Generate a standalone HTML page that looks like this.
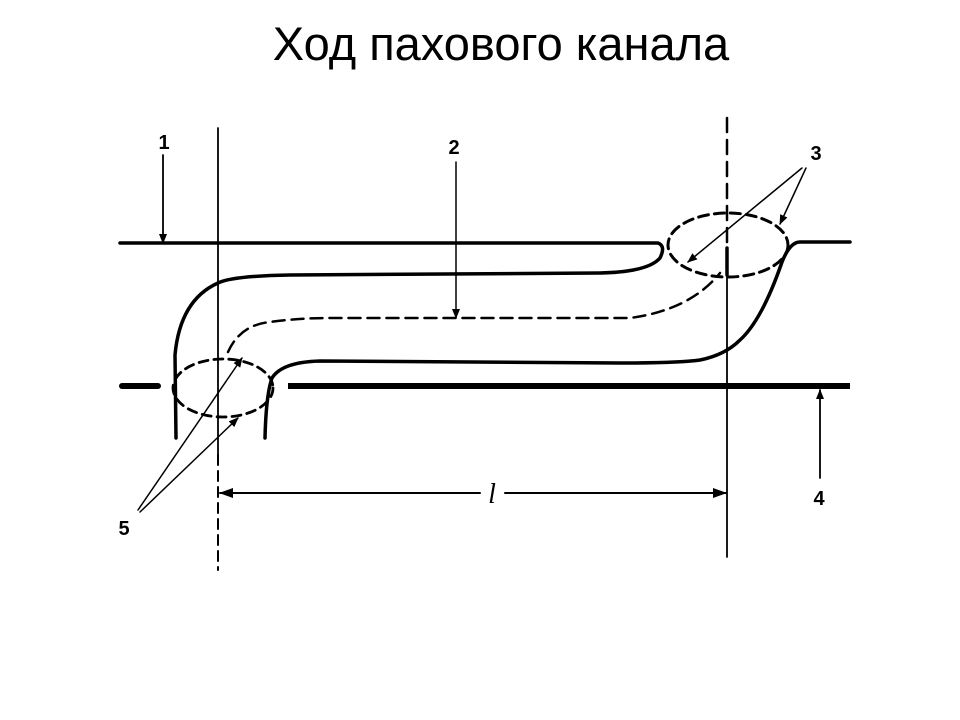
<!DOCTYPE html>
<html><head><meta charset="utf-8"><style>
body{margin:0;background:#fff;}
svg{display:block}
</style></head><body>
<svg width="960" height="720" viewBox="0 0 960 720" xmlns="http://www.w3.org/2000/svg">
<defs>
<marker id="a" markerWidth="10" markerHeight="8" refX="9" refY="4" orient="auto" markerUnits="userSpaceOnUse"><path d="M0,0 L10,4 L0,8 Z" fill="#000"/></marker>
<marker id="b" markerWidth="14" markerHeight="10" refX="13" refY="5" orient="auto" markerUnits="userSpaceOnUse"><path d="M0,0 L14,5 L0,10 Z" fill="#000"/></marker>
</defs>
<text x="501" y="60" font-family="Liberation Sans, sans-serif" font-size="47" text-anchor="middle">Ход пахового канала</text>
<g fill="none" stroke="#000" stroke-linecap="round">
<line x1="218" y1="128" x2="218" y2="455" stroke-width="1.8"/>
<line x1="218" y1="455" x2="218" y2="570" stroke-width="2" stroke-dasharray="10,6"/>
<line x1="727" y1="118" x2="727" y2="245" stroke-width="2.5" stroke-dasharray="14,8"/>
<line x1="727" y1="270" x2="727" y2="557" stroke-width="1.8"/>
<line x1="727" y1="248" x2="727" y2="275" stroke-width="3.5"/>
<path d="M120 243 H658 Q666 246 660 258 Q648 272 600 273 L290 275 Q232 276 218 283 Q180 300 175 355 L176 438" stroke-width="3.5"/>
<path d="M850 242 H800 Q790 242 782 262 Q762 320 740 340 Q725 355 700 360 Q680 363 620 363 L320 361 Q282 362 272 378 Q266 395 265 438" stroke-width="3.5"/>
<line x1="288" y1="386" x2="850" y2="386" stroke-width="6" stroke-linecap="butt"/>
<line x1="122" y1="386" x2="158" y2="386" stroke-width="6"/>
<path d="M228 352 Q240 325 270 322 Q300 318 330 318 L630 318 Q690 310 720 273" stroke-width="2.5" stroke-dasharray="12,7"/>
<ellipse cx="223" cy="388" rx="50" ry="29" stroke-width="2.8" stroke-dasharray="9,6"/>
<ellipse cx="728" cy="245" rx="60" ry="32" stroke-width="3" stroke-dasharray="10,6"/>
<line x1="163" y1="155" x2="163" y2="243" stroke-width="1.8" marker-end="url(#a)"/>
<line x1="456" y1="162" x2="456" y2="318" stroke-width="1.5" marker-end="url(#a)"/>
<line x1="802" y1="168" x2="688" y2="262" stroke-width="1.5" marker-end="url(#a)"/>
<line x1="806" y1="168" x2="780" y2="224" stroke-width="1.5" marker-end="url(#a)"/>
<line x1="820" y1="478" x2="820" y2="390" stroke-width="1.8" marker-end="url(#a)"/>
<line x1="138" y1="510" x2="242" y2="358" stroke-width="1.5" marker-end="url(#a)"/>
<line x1="140" y1="512" x2="238" y2="418" stroke-width="1.5" marker-end="url(#a)"/>
<line x1="480" y1="493" x2="220" y2="493" stroke-width="2" marker-end="url(#b)"/>
<line x1="505" y1="493" x2="726" y2="493" stroke-width="2" marker-end="url(#b)"/>
</g>
<g font-family="Liberation Sans, sans-serif" font-weight="bold" font-size="20" text-anchor="middle">
<text x="164" y="149">1</text>
<text x="454" y="154">2</text>
<text x="816" y="160">3</text>
<text x="819" y="505">4</text>
<text x="124" y="535">5</text>
</g>
<text x="492" y="503" font-family="Liberation Serif, serif" font-style="italic" font-size="28" text-anchor="middle">l</text>
</svg>
</body></html>
